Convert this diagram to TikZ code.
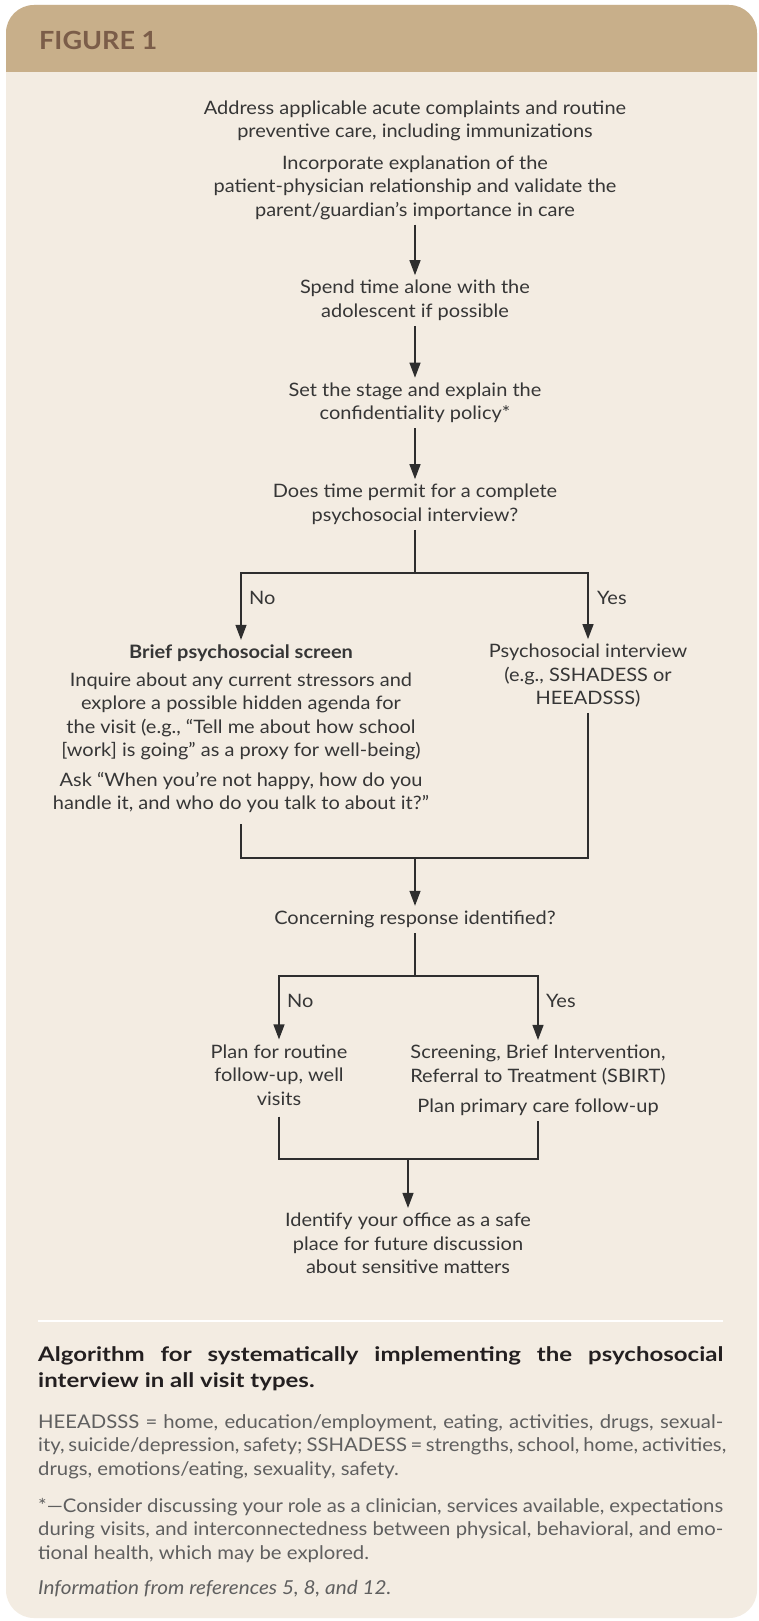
\documentclass[tikz,border=0pt]{standalone}
\usepackage{fontspec}
\setmainfont{Lato}[FakeStretch=1.08]
\newfontfamily\capbold{Lato}[FakeStretch=1.2]
\usetikzlibrary{arrows.meta}
\definecolor{hdr}{HTML}{C8AF8A}
\definecolor{bodybg}{HTML}{F3ECE2}
\definecolor{ttl}{HTML}{7B5D49}
\definecolor{ink}{HTML}{2E2E2E}
\definecolor{txt}{HTML}{363636}
\definecolor{capg}{HTML}{5F5F5F}
\definecolor{capb}{HTML}{231F20}
\newcommand\flowfont{\fontsize{18.5}{23.5}\selectfont}
\newcommand\capfont{\fontsize{18.8}{23.5}\selectfont}
\begin{document}
\begin{tikzpicture}[x=1pt,y=-1pt,
 flow/.style={align=center, inner sep=5pt, font=\flowfont, text=txt},
 lbl/.style={anchor=west, inner sep=0pt, font=\flowfont, text=txt},
 conn/.style={draw=ink, line width=1.3pt},
 arr/.style={conn, -{Triangle[length=15pt,width=11pt]}},
 captext/.style={anchor=base west, inner sep=0pt},
]
\useasboundingbox (0,0) rectangle (758,1621);
\fill[white] (0,0) rectangle (758,1621);
\fill[bodybg, rounded corners=28pt] (6,5) rectangle (757,1618);
\begin{scope}
\clip (0,0) rectangle (758,72);
\fill[hdr, rounded corners=28pt] (6,5) rectangle (757,1618);
\end{scope}
\node[anchor=base west, inner sep=0pt, font=\fontsize{25}{30}\selectfont\bfseries, text=ttl] (title) at (39,50) {FIGURE 1};

% flow nodes
\node[flow] (start) at (415,160) {Address applicable acute complaints and routine\\preventive care, including immunizations\\[8pt]Incorporate explanation of the\\patient-physician relationship and validate the\\parent/guardian’s importance in care};
\node[flow] (n2) at (415,300.5) {Spend time alone with the\\adolescent if possible};
\node[flow] (n3) at (415,403) {Set the stage and explain the\\confidentiality policy*};
\node[flow] (n4) at (415,504.5) {Does time permit for a complete\\psychosocial interview?};
\node[flow] (brief) at (241,729) {{\bfseries Brief psychosocial screen}\\[4pt]Inquire about any current stressors and\\explore a possible hidden agenda for\\the visit (e.g., “Tell me about how school\\{[}work{]} is going” as a proxy for well-being)\\[6pt]Ask “When you’re not happy, how do you\\handle it, and who do you talk to about it?”};
\node[flow] (psy) at (588,676) {Psychosocial interview\\(e.g., SSHADESS or\\HEEADSSS)};
\node[flow] (n5) at (415,919.5) {Concerning response identified?};
\node[flow] (plan) at (279,1075) {Plan for routine\\follow-up, well\\visits};
\node[flow] (sbirt) at (538,1080.5) {Screening, Brief Intervention,\\Referral to Treatment (SBIRT)\\[7pt]Plan primary care follow-up};
\node[flow] (final) at (408,1243.5) {Identify your office as a safe\\place for future discussion\\about sensitive matters};

% labels
\node[lbl] (no1) at (249,598) {No};
\node[lbl] (yes1) at (597,598) {Yes};
\node[lbl] (no2) at (287,1001) {No};
\node[lbl] (yes2) at (546,1001) {Yes};

% connectors
\coordinate (d1) at (415,573);
\coordinate (m1) at (415,858);
\coordinate (d2) at (415,976);
\coordinate (m2) at (408,1159);
\draw[arr] (start) -- (n2);
\draw[arr] (n2) -- (n3);
\draw[arr] (n3) -- (n4);
\draw[conn] (n4) -- (d1);
\draw[arr] (d1) -| (brief);
\draw[arr] (d1) -| (psy);
\draw[conn, shorten <=6pt] (brief) |- (m1);
\draw[conn] (psy) |- (m1);
\draw[arr] (m1) -- (n5);
\draw[conn] (n5) -- (d2);
\draw[arr] (d2) -| (plan);
\draw[arr] (d2) -| (sbirt);
\draw[conn, shorten <=6pt] (plan) |- (m2);
\draw[conn] (sbirt) |- (m2);
\draw[arr] (m2) -- (final);

% caption
\coordinate (ruleL) at (38,1321);
\coordinate (ruleR) at (723,1321);
\draw[white, line width=2.5pt] (ruleL) -- (ruleR);
\node[captext, text=capb] (cap) at (38,1361) {\parbox[t]{685pt}{\capbold\fontsize{20}{26}\selectfont\bfseries\makebox[\linewidth][s]{Algorithm for systematically implementing the psychosocial}\\interview in all visit types.}};
\node[captext, text=capg] (abbr) at (38,1428) {\parbox[t]{685pt}{\capfont\makebox[\linewidth][s]{HEEADSSS = home, education/employment, eating, activities, drugs, sexual-}\\\makebox[\linewidth][s]{ity, suicide/depression, safety; SSHADESS = strengths, school, home, activities,}\\drugs, emotions/eating, sexuality, safety.}};
\node[captext, text=capg] (note) at (38,1512) {\parbox[t]{685pt}{\capfont\makebox[\linewidth][s]{*—Consider discussing your role as a clinician, services available, expectations}\\\makebox[\linewidth][s]{during visits, and interconnectedness between physical, behavioral, and emo-}\\tional health, which may be explored.}};
\node[captext, text=capg, font=\fontsize{19.2}{24}\selectfont\itshape] (src) at (38,1594) {Information from references 5, 8, and 12.};
\end{tikzpicture}
\end{document}
